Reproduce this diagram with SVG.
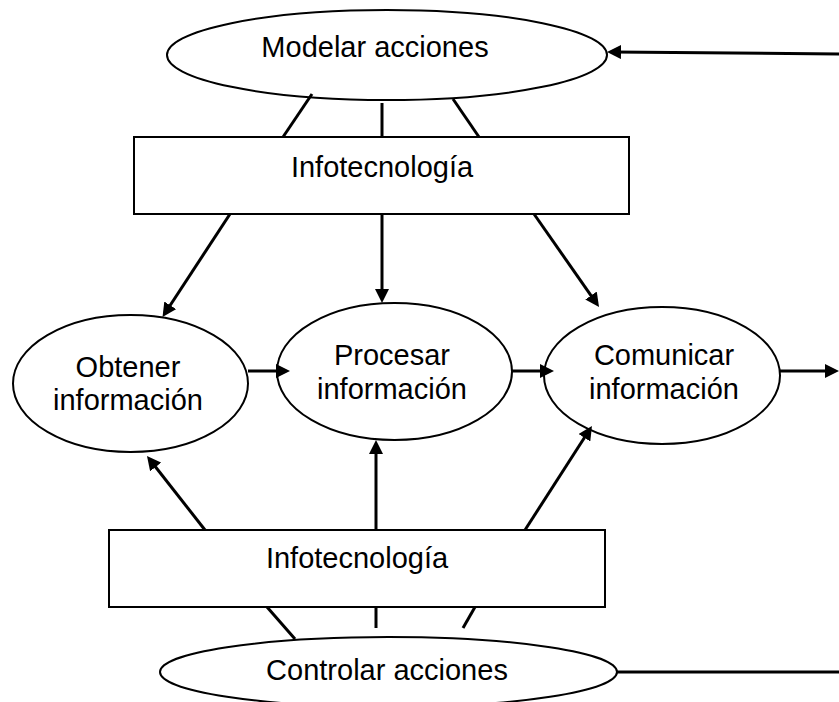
<svg xmlns="http://www.w3.org/2000/svg" width="839" height="702" viewBox="0 0 839 702">
<defs>
<style>
.node{fill:#fff;stroke:#000;stroke-width:2}
.lbl{font-family:"Liberation Sans",Arial,sans-serif;font-size:29px;fill:#000;text-anchor:middle}
.c{stroke:#000;stroke-width:3;fill:none}
.a{marker-end:url(#ah)}
</style>
<marker id="ah" markerUnits="userSpaceOnUse" markerWidth="14" markerHeight="14" viewBox="0 0 14 14" refX="8" refY="7" orient="auto">
<path d="M0,0 L14,7 L0,14 z" fill="#000"/>
</marker>
</defs>
<rect width="839" height="702" fill="#fff"/>
<g id="modelar">
<ellipse class="node" cx="387" cy="55" rx="220" ry="45"/>
<text class="lbl" x="375" y="57">Modelar acciones</text>
</g>
<g id="infotec-top">
<rect class="node" x="134" y="137" width="495" height="77"/>
<text class="lbl" x="382" y="177">Infotecnología</text>
</g>
<g id="obtener">
<ellipse class="node" cx="130.5" cy="383.5" rx="117.5" ry="68.5"/>
<text class="lbl" x="128" y="377">Obtener</text>
<text class="lbl" x="128" y="410">información</text>
</g>
<g id="procesar">
<ellipse class="node" cx="394.5" cy="371.5" rx="117.5" ry="68.5"/>
<text class="lbl" x="392" y="365">Procesar</text>
<text class="lbl" x="392" y="399">información</text>
</g>
<g id="comunicar">
<ellipse class="node" cx="662" cy="375.5" rx="118" ry="68.5"/>
<text class="lbl" x="664" y="365">Comunicar</text>
<text class="lbl" x="664" y="399">información</text>
</g>
<g id="infotec-bottom">
<rect class="node" x="109" y="530" width="496" height="77"/>
<text class="lbl" x="357" y="568">Infotecnología</text>
</g>
<g id="controlar">
<ellipse class="node" cx="388.5" cy="672" rx="228.5" ry="35"/>
<text class="lbl" x="387" y="680">Controlar acciones</text>
</g>
<g id="connectors">
<line class="c a" x1="839" y1="54" x2="613" y2="52"/>
<line class="c" x1="312" y1="94" x2="283" y2="137"/>
<line class="c" x1="382" y1="103" x2="382" y2="137"/>
<line class="c" x1="453" y1="99" x2="479" y2="137"/>
<line class="c a" x1="230" y1="214" x2="165.8" y2="312"/>
<line class="c a" x1="382" y1="214" x2="382" y2="297"/>
<line class="c a" x1="534" y1="214" x2="595.6" y2="302.1"/>
<line class="c a" x1="248" y1="371" x2="284" y2="371"/>
<line class="c a" x1="512" y1="371" x2="548" y2="371"/>
<line class="c a" x1="780" y1="371" x2="833" y2="371"/>
<line class="c a" x1="205" y1="530" x2="150.7" y2="460.7"/>
<line class="c a" x1="376" y1="530" x2="376" y2="446"/>
<line class="c a" x1="525" y1="530" x2="588.7" y2="431"/>
<line class="c" x1="267" y1="607" x2="295" y2="639"/>
<line class="c" x1="376" y1="607" x2="376" y2="628"/>
<line class="c" x1="475" y1="607" x2="463" y2="628"/>
<line class="c" x1="617" y1="672" x2="839" y2="672"/>
</g>
</svg>
